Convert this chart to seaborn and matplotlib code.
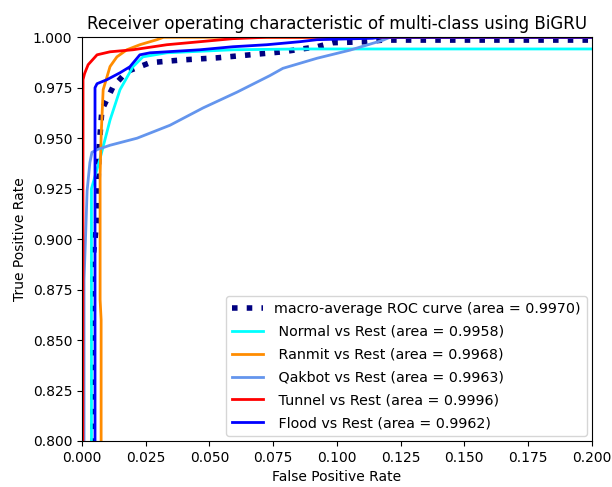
import matplotlib
matplotlib.use("Agg")
import matplotlib.pyplot as plt
import seaborn as sns
import pandas as pd

# ROC curve points (false positive rate, true positive rate) per class, zoomed region
macro_fpr = [0.0, 0.0043, 0.0043, 0.0059, 0.0067, 0.0078, 0.0122, 0.0176, 0.0267, 0.0396,
             0.0529, 0.0659, 0.0788, 0.0922, 0.0984, 0.1118, 0.1180, 0.2000]
macro_tpr = [0.0, 0.800, 0.890, 0.910, 0.945, 0.964, 0.9755, 0.983, 0.9874, 0.9888,
             0.9898, 0.9913, 0.9928, 0.9953, 0.9973, 0.9978, 0.9986, 0.9986]

normal_fpr = [0.0, 0.0037, 0.0037, 0.0071, 0.0110, 0.0149, 0.0200, 0.0239, 0.0333, 0.0592, 0.0855, 0.2000]
normal_tpr = [0.0, 0.800, 0.925, 0.940, 0.959, 0.974, 0.9854, 0.9903, 0.9923, 0.9938, 0.9942, 0.9942]

ranmit_fpr = [0.0, 0.0075, 0.0075, 0.0071, 0.0071, 0.0075, 0.0083, 0.0110, 0.0137, 0.0176, 0.0227, 0.0294, 0.0320, 0.2000]
ranmit_tpr = [0.0, 0.800, 0.860, 0.870, 0.932, 0.951, 0.974, 0.9855, 0.9903, 0.9938, 0.9963, 0.9988, 1.000, 1.000]

qakbot_fpr = [0.0, 0.0008, 0.0008, 0.0015, 0.0020, 0.0031, 0.0039, 0.0063, 0.0110, 0.0216, 0.0345,
              0.0475, 0.0608, 0.0737, 0.0788, 0.0922, 0.1051, 0.1180, 0.1208, 0.2000]
qakbot_tpr = [0.0, 0.800, 0.880, 0.905, 0.924, 0.938, 0.943, 0.9445, 0.9465, 0.950, 0.9564,
              0.965, 0.9728, 0.981, 0.9846, 0.9896, 0.9936, 0.9985, 1.000, 1.000]

tunnel_fpr = [0.0, 0.0004, 0.0010, 0.0024, 0.0059, 0.0110, 0.0200, 0.0333, 0.0463, 0.0592, 0.0725, 0.2000]
tunnel_tpr = [0.0, 0.9790, 0.9820, 0.9864, 0.9913, 0.9928, 0.9938, 0.9963, 0.9978, 0.9993, 1.000, 1.000]

flood_fpr = [0.0, 0.0051, 0.0051, 0.0059, 0.0098, 0.0149, 0.0188, 0.0227, 0.0267, 0.0463, 0.0592,
             0.0725, 0.0855, 0.0922, 0.1140, 0.1170, 0.2000]
flood_tpr = [0.0, 0.800, 0.975, 0.977, 0.979, 0.9824, 0.9854, 0.9913, 0.9923, 0.9938, 0.9953,
             0.9963, 0.9978, 0.9988, 0.9995, 1.000, 1.000]

class_names = ["Normal", "Ranmit", "Qakbot", "Tunnel", "Flood"]
class_auc = [0.9958, 0.9968, 0.9963, 0.9996, 0.9962]
macro_auc = 0.9970
class_colors = ["aqua", "darkorange", "cornflowerblue", "red", "blue"]
class_fpr = [normal_fpr, ranmit_fpr, qakbot_fpr, tunnel_fpr, flood_fpr]
class_tpr = [normal_tpr, ranmit_tpr, qakbot_tpr, tunnel_tpr, flood_tpr]

fig = plt.figure(figsize=(6.12, 4.87), dpi=100)
ax = fig.add_axes([0.134, 0.0945, 0.833, 0.829])

macro_df = pd.DataFrame({"fpr": macro_fpr, "tpr": macro_tpr})
sns.lineplot(data=macro_df, x="fpr", y="tpr", sort=False, estimator=None, ax=ax,
             color="navy", linestyle=":", linewidth=4,
             label=f"macro-average ROC curve (area = {macro_auc:.4f})")

for name, auc, color, fpr, tpr in zip(class_names, class_auc, class_colors, class_fpr, class_tpr):
    df = pd.DataFrame({"fpr": fpr, "tpr": tpr})
    sns.lineplot(data=df, x="fpr", y="tpr", sort=False, estimator=None, ax=ax,
                 color=color, linewidth=2,
                 label=f" {name} vs Rest (area = {auc:.4f})")

ax.set_xlim(0.0, 0.2)
ax.set_ylim(0.8, 1.0)
ax.set_xlabel("False Positive Rate")
ax.set_ylabel("True Positive Rate")
ax.set_title("Receiver operating characteristic of multi-class using BiGRU")
ax.legend(loc="lower right", fontsize=10.3, labelspacing=0.62, handlelength=2.2,
          borderaxespad=0.35)

fig.savefig("out.png", dpi=100)
